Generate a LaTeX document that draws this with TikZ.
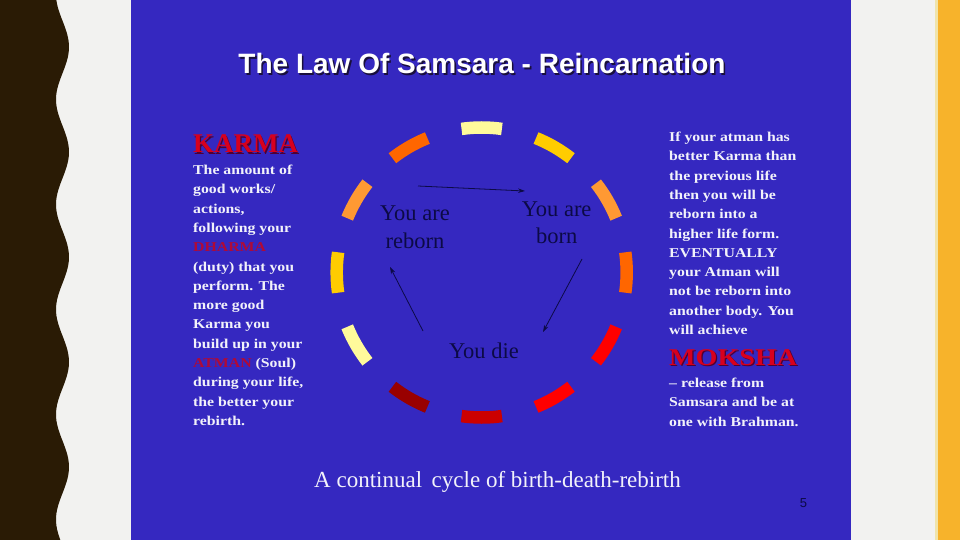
\documentclass[tikz,border=0pt]{standalone}
\usepackage{fontspec}
\setmainfont{Liberation Serif}
\newfontfamily\titlefont{Liberation Sans}
\newfontfamily\bodyfont[FakeStretch=1.17]{Liberation Serif}
\usetikzlibrary{arrows.meta}
\definecolor{bandbrown}{RGB}{42,27,5}
\definecolor{paper}{RGB}{242,242,240}
\definecolor{slideblue}{RGB}{53,40,192}
\definecolor{accentorange}{RGB}{247,179,43}
\definecolor{paleline}{RGB}{240,228,170}
\definecolor{navytxt}{RGB}{12,10,70}
\definecolor{shadowdark}{RGB}{25,15,60}
\definecolor{headshadow}{RGB}{80,0,50}
\definecolor{headred}{RGB}{215,0,30}
\definecolor{wordred}{RGB}{175,10,55}
\definecolor{bodywhite}{RGB}{242,242,250}
\definecolor{segpale}{RGB}{255,250,155}
\definecolor{seggold}{RGB}{255,204,0}
\definecolor{seglorange}{RGB}{255,153,51}
\definecolor{segorange}{RGB}{255,102,0}
\definecolor{segred}{RGB}{255,0,0}
\definecolor{segcrimson}{RGB}{204,0,0}
\definecolor{segmaroon}{RGB}{153,0,0}
\tikzset{
  titletxt/.style={inner sep=0pt, font=\fontsize{28}{32}\selectfont\titlefont\bfseries},
  headtxt/.style={inner sep=0pt, font=\fontsize{27}{30}\selectfont\bfseries},
  mokshatxt/.style={inner sep=0pt, font=\fontsize{24}{28}\selectfont\bodyfont\bfseries},
  bodytxt/.style={inner sep=0pt, align=left, text=bodywhite, font=\fontsize{13.5}{19.3}\selectfont\bodyfont\bfseries},
  cycletxt/.style={inner sep=0pt, align=center, text=navytxt, font=\fontsize{22.5}{27.5}\selectfont},
  segment/.style={line width=12.5pt},
  cyclearrow/.style={draw=navytxt, line width=0.8pt, -{Stealth[length=7pt,width=4.5pt]}}
}
\begin{document}
\begin{tikzpicture}[x=1pt,y=-1pt]
\useasboundingbox (0,0) rectangle (960,540);
% backgrounds
\fill[paper] (0,0) rectangle (960,540);
\fill[bandbrown] (0,0) -- plot[domain=0:540, samples=160, variable=\t] ({62.5+6.5*cos(3.428571*(\t-47))}, \t) -- (0,540) -- cycle;
\fill[slideblue] (131,0) rectangle (851,540);
\fill[paleline] (935,0) rectangle (938,540);
\fill[accentorange] (937.5,0) rectangle (960,540);
% title
\node[titletxt, text=shadowdark, anchor=base] (titleshadow) at (483.6,75.1) {The Law Of Samsara - Reincarnation};
\node[titletxt, text=white, anchor=base] (title) at (482,73.5) {The Law Of Samsara - Reincarnation};
% KARMA
\node[headtxt, text=headshadow, anchor=base west] (karmashadow) at (194.2,154.2) {KARMA};
\node[headtxt, text=headred, anchor=base west] (karma) at (193,153) {KARMA};
\node[bodytxt, anchor=north west] (karmatext) at (193,164.8) {The amount of\\good works/\\actions,\\following your\\\textcolor{wordred}{DHARMA}\\(duty) that you\\perform. The\\more good\\Karma you\\build up in your\\\textcolor{wordred}{ATMAN} (Soul)\\during your life,\\the better your\\rebirth.};
% right text
\node[bodytxt, anchor=north west] (atmantext) at (669,131.8) {If your atman has\\better Karma than\\the previous life\\then you will be\\reborn into a\\higher life form.\\EVENTUALLY\\your Atman will\\not be reborn into\\another body. You\\will achieve};
\node[mokshatxt, text=headshadow, anchor=base west] (mokshashadow) at (670.2,366.2) {MOKSHA};
\node[mokshatxt, text=headred, anchor=base west] (moksha) at (669,365) {MOKSHA};
\node[bodytxt, anchor=north west, font=\fontsize{13.5}{19.6}\selectfont\bodyfont\bfseries] (releasetext) at (669,377.6) {– release from\\Samsara and be at\\one with Brahman.};
% cycle ring
\coordinate (ring) at (481.7,272.5);
\foreach \a/\c in {-90/segpale, -60/seggold, -30/seglorange, 0/segorange, 30/segred, 60/segred, 90/segcrimson, 120/segmaroon, 150/segpale, 180/seggold, 210/seglorange, 240/segorange}
  \draw[segment, \c] (ring) ++(\a-8:145) arc[start angle=\a-8, end angle=\a+8, radius=145];
% cycle texts
\node[cycletxt, anchor=north] (reborn) at (415,205.7) {You are\\reborn};
\node[cycletxt, anchor=north] (born) at (556.7,201.4) {You are\\born};
\node[cycletxt, anchor=base] (die) at (484,358.3) {You die};
\coordinate (a1s) at (418,186);
\coordinate (a1e) at (525,191);
\coordinate (a2s) at (582,259);
\coordinate (a2e) at (543,332);
\coordinate (a3s) at (423,331);
\coordinate (a3e) at (390,267);
\draw[cyclearrow] (a1s) -- (a1e);
\draw[cyclearrow] (a2s) -- (a2e);
\draw[cyclearrow] (a3s) -- (a3e);
% bottom caption
\node[inner sep=0pt, anchor=base, text=bodywhite, font=\fontsize{23}{26}\selectfont] (caption) at (497.5,487) {A continual\, cycle of birth-death-rebirth};
\node[inner sep=0pt, text=navytxt, font=\fontsize{13}{15}\selectfont\titlefont] (pagenum) at (803.5,503.3) {5};
\end{tikzpicture}
\end{document}
